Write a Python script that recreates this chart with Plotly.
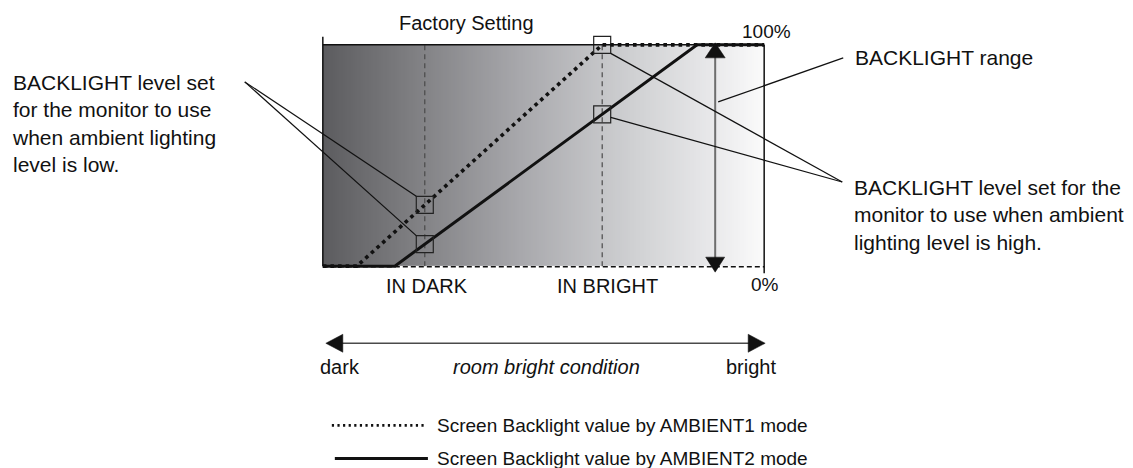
import numpy as np
import plotly.graph_objects as go

W, H = 1133, 468

# Room brightness on x (0 = darkest, 100 = brightest), backlight % on y
ambient1_x = [0, 7.7, 63.3, 100]
ambient1_y = [0, 0, 100, 100]
ambient2_x = [0, 16.3, 84.8, 100]
ambient2_y = [0, 0, 100, 100]
in_dark_x = 23.1
in_bright_x = 63.3
range_arrow_x = 88.9

FONT = "Liberation Sans, Arial, Helvetica, sans-serif"
INK = "#111111"

# ---- geometry helpers -------------------------------------------------
X_RANGE = [-2, 102]
Y_RANGE = [-4, 104]
BOX_L, BOX_R, BOX_T, BOX_B = 323, 764, 45, 266
sx = (BOX_R - BOX_L) / 100.0
sy = (BOX_B - BOX_T) / 100.0
PLOT_L = BOX_L + X_RANGE[0] * sx
PLOT_R = BOX_L + X_RANGE[1] * sx
PLOT_T = BOX_B - Y_RANGE[1] * sy
PLOT_B = BOX_B - Y_RANGE[0] * sy


def dpx(x):
    return BOX_L + x * sx


def dpy(y):
    return BOX_B - y * sy


def pxp(p):
    return (p - PLOT_L) / (PLOT_R - PLOT_L)


def pyp(p):
    return (PLOT_B - p) / (PLOT_B - PLOT_T)


def pline(x0, y0, x1, y1, color=INK, width=1.2, dash="solid"):
    return dict(type="line", xref="paper", yref="paper",
                x0=pxp(x0), y0=pyp(y0), x1=pxp(x1), y1=pyp(y1),
                line=dict(color=color, width=width, dash=dash), layer="above")


def ptri(points, color=INK):
    d = "M " + " L ".join(f"{pxp(a):.5f},{pyp(b):.5f}" for a, b in points) + " Z"
    return dict(type="path", xref="paper", yref="paper", path=d,
                fillcolor=color, line=dict(color=color, width=0.5), layer="above")


def note(text, x, y, size=21, xanchor="center", yanchor="middle", align="left"):
    return dict(text=text, xref="paper", yref="paper", x=pxp(x), y=pyp(y),
                xanchor=xanchor, yanchor=yanchor, align=align, showarrow=False,
                font=dict(family=FONT, size=size, color=INK))


fig = go.Figure()

# ---- gradient background of the backlight box --------------------------
edges = np.linspace(0, 100, 221)
mids = (edges[:-1] + edges[1:]) / 2
fig.add_trace(go.Heatmap(
    x=edges, y=[0, 100], z=[mids], zmin=0, zmax=100,
    colorscale=[[0, "#5c5c5f"], [0.2, "#7e7e81"], [0.45, "#a8a8ac"],
                [0.7, "#cfd0d2"], [0.88, "#e8e8ea"], [1, "#fbfbfb"]],
    showscale=False, hoverinfo="skip"))

# ---- IN DARK / IN BRIGHT reference lines --------------------------------
for xv in (in_dark_x, in_bright_x):
    fig.add_trace(go.Scatter(x=[xv, xv], y=[0, 100], mode="lines",
                             line=dict(color="#4a4a4a", width=1.2, dash="5px,4px"),
                             hoverinfo="skip", showlegend=False))

# ---- backlight curves ----------------------------------------------------
fig.add_trace(go.Scatter(x=ambient2_x, y=ambient2_y, mode="lines",
                         name="Screen Backlight value by AMBIENT2 mode",
                         line=dict(color=INK, width=3), showlegend=False))
fig.add_trace(go.Scatter(x=ambient1_x, y=ambient1_y, mode="lines",
                         name="Screen Backlight value by AMBIENT1 mode",
                         line=dict(color=INK, width=3.6, dash="3.6px,4px"),
                         showlegend=False))

# ---- marked operating points --------------------------------------------
sq_x = [in_dark_x, in_dark_x, in_bright_x, in_bright_x]
sq_y = [float(np.interp(in_dark_x, ambient1_x, ambient1_y)),
        float(np.interp(in_dark_x, ambient2_x, ambient2_y)),
        float(np.interp(in_bright_x, ambient1_x, ambient1_y)),
        float(np.interp(in_bright_x, ambient2_x, ambient2_y))]
SQ = 17
fig.add_trace(go.Scatter(x=sq_x, y=sq_y, mode="markers", cliponaxis=False,
                         marker=dict(symbol="square-open", size=SQ, color="#222222",
                                     line=dict(width=1.2)),
                         hoverinfo="skip", showlegend=False))

shapes = []
# box frame: solid top/left/right, dashed bottom
shapes.append(pline(BOX_L, BOX_T, BOX_R, BOX_T, width=1.5))
shapes.append(pline(BOX_L, BOX_T - 8, BOX_L, BOX_B, width=1.5))
shapes.append(pline(BOX_R, BOX_T, BOX_R, BOX_B + 7, width=1.5))
shapes.append(pline(BOX_L, BOX_B + 0.5, BOX_R, BOX_B + 0.5, width=1.5, dash="5px,3px"))

# BACKLIGHT range arrow
ax_px = dpx(range_arrow_x)
shapes.append(pline(ax_px, BOX_T + 10, ax_px, BOX_B - 6, color="#6e6e6e", width=2))
shapes.append(ptri([(ax_px, BOX_T - 2), (ax_px - 10, BOX_T + 13), (ax_px + 10, BOX_T + 13)]))
shapes.append(ptri([(ax_px, BOX_B + 6), (ax_px - 9.5, BOX_B - 9), (ax_px + 9.5, BOX_B - 9)]))

# room bright condition arrow
ARW_Y = 343
shapes.append(pline(340, ARW_Y, 752, ARW_Y, color="#4a4a4a", width=1.5))
shapes.append(ptri([(326, ARW_Y), (343, ARW_Y - 9), (343, ARW_Y + 9)]))
shapes.append(ptri([(765, ARW_Y), (748, ARW_Y - 9), (748, ARW_Y + 9)]))

# leader lines
half = SQ / 2
sqp = [(dpx(a), dpy(b)) for a, b in zip(sq_x, sq_y)]
low_src = (245, 82)
shapes.append(pline(*low_src, sqp[0][0] - half, sqp[0][1] - half))
shapes.append(pline(*low_src, sqp[1][0] - half, sqp[1][1] - half))
high_src = (842, 182)
shapes.append(pline(*high_src, sqp[2][0] + half, sqp[2][1] + half))
shapes.append(pline(*high_src, sqp[3][0] + half, sqp[3][1] + 3))
shapes.append(pline(ax_px + 3, 102, 843, 58))

# legend samples
shapes.append(pline(332, 425, 427, 425, width=2.6, dash="2.2px,3.4px"))
shapes.append(pline(335, 458, 428, 458, width=3))

annotations = [
    note("Factory Setting", 467, 23, size=20),
    note("100%", 766, 32, size=19),
    note("0%", 765, 284, size=19),
    note("IN DARK", 427, 286, size=20),
    note("IN BRIGHT", 607, 286, size=20),
    note("BACKLIGHT level set<br>for the monitor to use<br>when ambient lighting<br>level is low.",
         10, 124, xanchor="left"),
    note("BACKLIGHT range", 853, 58, xanchor="left"),
    note("BACKLIGHT level set for the<br>monitor to use when ambient<br>lighting level is high.",
         852, 215, xanchor="left"),
    note("dark", 340, 367, size=20),
    note("<i>room bright condition</i>", 546, 367, size=20),
    note("bright", 751, 367, size=20),
    note("Screen Backlight value by AMBIENT1 mode", 435, 425, size=19, xanchor="left"),
    note("Screen Backlight value by AMBIENT2 mode", 435, 458, size=19, xanchor="left"),
]

fig.update_layout(
    width=W, height=H,
    margin=dict(l=PLOT_L, r=W - PLOT_R, t=PLOT_T, b=H - PLOT_B, pad=0),
    paper_bgcolor="white", plot_bgcolor="white",
    xaxis=dict(range=X_RANGE, visible=False, fixedrange=True),
    yaxis=dict(range=Y_RANGE, visible=False, fixedrange=True),
    shapes=shapes, annotations=annotations,
    font=dict(family=FONT, color=INK),
    showlegend=False,
)

fig.write_html("out.html")
